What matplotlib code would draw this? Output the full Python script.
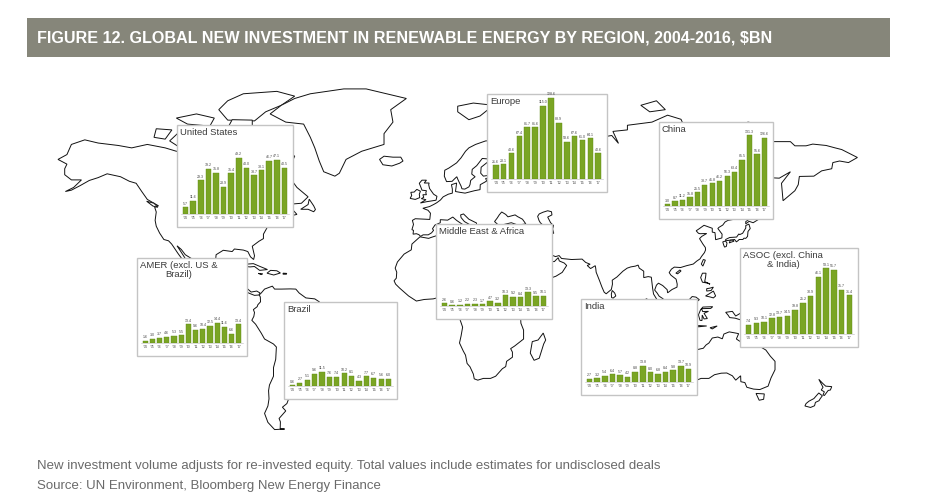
import numpy as np
import matplotlib.pyplot as plt
from matplotlib.patches import Polygon, Rectangle
from matplotlib import font_manager as fm

W, H = 934, 503

# ---- data ($bn) ----
years = ["'04", "'05", "'06", "'07", "'08", "'09", "'10", "'11", "'12", "'13", "'14", "'15", "'16", "'17"]
us = [5.7, 11.6, 29.3, 39.2, 35.8, 23.9, 35.4, 49.2, 40.0, 33.7, 38.1, 46.7, 47.1, 40.5]
europe = [21.6, 23.1, 40.6, 67.4, 81.7, 81.6, 115.0, 128.6, 88.9, 58.6, 67.6, 61.0, 64.1, 40.6]
china = [3.0, 8.7, 11.2, 15.8, 25.5, 38.7, 41.8, 46.2, 56.3, 63.4, 85.5, 131.3, 95.6, 126.6]
amer = [1.6, 3.0, 3.7, 4.6, 5.3, 5.5, 13.4, 9.6, 10.4, 12.5, 14.4, 11.6, 6.6, 13.4]
brazil = [0.6, 2.7, 5.1, 9.6, 11.5, 7.6, 7.4, 10.2, 8.1, 4.3, 7.7, 6.7, 5.6, 6.0]
mea = [2.6, 0.6, 1.2, 2.2, 2.3, 1.7, 4.7, 3.2, 10.3, 9.2, 8.4, 13.3, 9.5, 10.1]
india = [2.7, 3.2, 5.4, 6.4, 5.7, 4.2, 8.8, 13.8, 8.0, 6.8, 8.4, 9.8, 13.7, 10.9]
asoc = [7.4, 9.3, 10.1, 12.8, 13.7, 14.5, 19.8, 25.2, 30.9, 46.1, 53.1, 51.7, 35.7, 31.4]

regions = ["United States", "Europe", "China", "AMER (excl. US &\nBrazil)", "Brazil",
           "Middle East & Africa", "India", "ASOC (excl. China\n& India)"]
values = [us, europe, china, amer, brazil, mea, india, asoc]

# inset boxes in pixels (x0, y0, x1, y1) and y-axis tops
boxes = [(177, 125, 293, 227), (487, 94, 607, 192), (659, 122, 773, 219), (137, 258, 247, 356),
         (284, 302, 397, 399), (436, 224, 552, 319), (581, 299, 697, 395), (740, 248, 858, 347)]
ytops = [76, 131, 152, 60, 66, 78, 68, 68]

title = "FIGURE 12. GLOBAL NEW INVESTMENT IN RENEWABLE ENERGY BY REGION, 2004-2016, $BN"
note1 = "New investment volume adjusts for re-invested equity. Total values include estimates for undisclosed deals"
note2 = "Source: UN Environment, Bloomberg New Energy Finance"

# ---- rough coastline outlines (lon, lat) for the background map ----
land = [
    # North America
    [(-168, 65.5), (-164, 67), (-162, 70), (-156, 71.3), (-150, 70.4), (-141, 69.7), (-135, 69), (-128, 70),
     (-120, 69), (-115, 68), (-108, 68), (-98, 68), (-94, 71), (-90, 69), (-85, 69.5), (-82, 67), (-86, 64),
     (-94, 61), (-93, 58.8), (-92, 57), (-88, 55.5), (-82, 53), (-79, 51.5), (-79, 55), (-77, 58), (-78, 62.5),
     (-73, 62), (-70, 59), (-65, 60.3), (-61, 56), (-56, 52.5), (-59, 50), (-66, 49.5), (-64, 48.5), (-61, 45.5),
     (-66, 44.5), (-70, 43.5), (-70, 41.7), (-74, 40.5), (-76, 37), (-76, 35), (-78, 33.8), (-81, 31.5), (-80, 27),
     (-80.4, 25.2), (-81.8, 26.5), (-83, 29), (-85, 29.7), (-89, 30.2), (-90, 29), (-94, 29.6), (-97.2, 27.5),
     (-97.5, 24), (-97, 21), (-95, 18.6), (-91, 18.6), (-90.5, 21), (-87, 21.5), (-88, 18), (-88.5, 16),
     (-84, 15.5), (-83.5, 11), (-81.5, 9), (-79, 9.5), (-77.5, 8.5), (-78, 7.5), (-80, 7.3), (-82, 8.2),
     (-85.5, 10), (-87.5, 13), (-91.5, 14), (-94.5, 16), (-97, 16), (-101, 17.5), (-105.5, 20), (-105.5, 22.8),
     (-108, 25.5), (-111, 27.5), (-112.8, 30), (-114.7, 31.7), (-113, 29), (-111.5, 26.5), (-110, 24),
     (-109.5, 23), (-112, 24.8), (-114.2, 28), (-115.8, 30.5), (-117.1, 32.5), (-118.5, 34), (-120.6, 34.6),
     (-122.5, 37.5), (-124, 40.5), (-124.5, 43), (-124, 46.5), (-124.7, 48.4), (-123, 49), (-125, 50),
     (-128, 51.5), (-130.5, 54.5), (-133, 57.5), (-136, 58.2), (-140, 59.8), (-146, 60.8), (-150, 59.5),
     (-154, 58.5), (-158, 56.7), (-162, 55), (-164.7, 54.5), (-161, 56), (-157.5, 58.7), (-162, 58.7),
     (-165, 60.5), (-165, 62.5), (-164, 64)],
    # Canadian islands
    [(-62, 66.5), (-64, 63.5), (-68, 62.5), (-74, 64.5), (-78, 64.5), (-80, 68), (-85, 70), (-89, 71),
     (-84, 73.7), (-78, 72.5), (-72, 71), (-67, 69)],
    [(-118, 71), (-112, 68.5), (-103, 68.7), (-101, 70), (-106, 73), (-114, 73.3)],
    [(-92, 76.5), (-80, 76.3), (-75, 78.5), (-68, 80), (-62, 82), (-70, 83), (-85, 82.5), (-92, 81), (-96, 79)],
    [(-125, 72), (-120, 71.5), (-117, 74), (-124, 74.3)],
    [(-92, 74.5), (-81, 74.5), (-81, 76.5), (-90, 76.6)],
    [(-110, 75.5), (-100, 75), (-98, 77), (-106, 78), (-115, 77)],
    [(-59.3, 47.6), (-56, 49.5), (-55.5, 51.6), (-53.5, 49), (-52.7, 47.5), (-53.5, 46.6), (-56, 47.6)],
    [(-128.3, 50.8), (-125, 50), (-123.3, 48.4), (-125.5, 48.9)],
    # Greenland, Iceland
    [(-73, 78), (-66, 76), (-58, 75.5), (-55, 72), (-53, 69), (-51, 65), (-49, 61.5), (-44, 60), (-42, 61),
     (-39, 65.5), (-32, 68), (-22, 70), (-22, 73), (-18, 76), (-19, 79), (-12, 81.5), (-30, 83.5), (-40, 83.5),
     (-55, 82.5), (-62, 81.5), (-68, 80)],
    [(-24, 65.5), (-22, 66.5), (-18, 66.2), (-14.5, 66.2), (-13.5, 65), (-15, 64.3), (-18.5, 63.4), (-22.5, 63.8)],
    # Caribbean
    [(-85, 21.9), (-83, 23), (-80.5, 23.2), (-77.5, 21.8), (-75.7, 21), (-74.2, 20.3), (-77.7, 19.9),
     (-80, 21.8), (-82, 21.6)],
    [(-74.4, 18.5), (-72.8, 19.9), (-70, 19.7), (-68.4, 18.6), (-71.4, 17.6)],
    [(-78.3, 18.4), (-76.3, 18.2), (-77, 17.8)],
    [(-67.2, 18.5), (-65.6, 18.4), (-65.7, 18), (-67.2, 18)],
    # South America
    [(-77, 8.5), (-75.5, 10.5), (-72, 12), (-71, 10.5), (-68, 10.5), (-64, 10.6), (-61.5, 10.5), (-60, 8.5),
     (-57, 6), (-53, 5.5), (-51, 4), (-50, 1.8), (-48.5, -1), (-44.5, -2.5), (-40, -2.8), (-35, -5.2),
     (-34.8, -7.5), (-35.3, -9.5), (-37.5, -12.5), (-39, -13.5), (-39.2, -17.5), (-40.5, -21), (-42, -23),
     (-44.5, -23.3), (-48.5, -26), (-48.6, -28.5), (-51, -31.5), (-53.5, -34), (-55, -35), (-58.4, -34.5),
     (-57, -36.5), (-57.5, -38.2), (-62, -39), (-62.3, -40.8), (-65, -41), (-64.5, -42.5), (-65.5, -45),
     (-67.5, -46.5), (-66, -48), (-69, -51), (-68.4, -52.3), (-68.5, -54.9), (-66.5, -55), (-71, -55.2),
     (-74, -52.5), (-75.5, -49), (-74, -46), (-73.5, -43), (-73.7, -39.5), (-73.3, -37), (-71.5, -33),
     (-71.5, -29), (-70.5, -25), (-70.2, -19), (-71.5, -17.5), (-75.5, -15), (-77, -12), (-79.5, -7.5),
     (-81.2, -5.5), (-80.3, -3.5), (-80, -1.5), (-80.5, 0), (-78.8, 1.5), (-78.5, 2.5), (-77.3, 4),
     (-77.4, 6.5), (-77.9, 7.5)],
    # Africa
    [(-5.9, 35.8), (-9.5, 32.5), (-9.8, 29.8), (-13, 27.8), (-16, 24), (-17, 21), (-16.3, 19), (-16.5, 16),
     (-17.5, 14.7), (-16.8, 13), (-15, 11), (-13, 9), (-11, 7), (-7.5, 4.4), (-4, 5.2), (0, 5.5), (2.7, 6.3),
     (4.5, 6.2), (6, 4.3), (8.5, 4.5), (9.7, 3.5), (9.5, 1), (9, -1), (11.5, -3.5), (12.3, -6), (13.2, -9),
     (12.5, -13.5), (11.8, -17), (13.5, -21), (14.5, -23), (15.2, -27), (16.5, -28.6), (18, -32), (18.4, -34.2),
     (20, -34.8), (22.5, -34), (25.7, -34), (28, -33), (31, -29.5), (32.5, -28.5), (32.9, -26), (35.5, -24),
     (35.5, -21.5), (34.7, -19.8), (36.5, -18.5), (40.5, -15), (40.5, -10.5), (39.3, -7), (39.2, -4.7),
     (41, -2), (43.5, 0.5), (47, 4.5), (50, 8.5), (51.2, 11.8), (49, 11.3), (44.5, 10.4), (43.2, 12.5),
     (41.5, 14), (39.5, 15.5), (38.5, 18), (37.3, 21), (35.5, 23.9), (34.5, 26), (33.5, 27.5), (32.5, 30),
     (32.3, 31.2), (30, 31.4), (25, 31.7), (20, 32.2), (19, 30.3), (15.5, 31.5), (11.5, 33.2), (10.5, 35.7),
     (11, 37), (9.5, 37.3), (3, 36.8), (-1, 35.5), (-2, 35.1)],
    [(49.3, -12), (50.4, -15.5), (49.5, -17.5), (47.5, -24.5), (45.2, -25.5), (43.5, -22), (44.4, -16.3),
     (47, -15.5)],
    # Eurasia
    [(32.3, 31.2), (34.2, 31.3), (35, 33), (35.9, 35.2), (36.2, 36.7), (32.8, 36.1), (30, 36.3), (27.3, 37),
     (26.2, 39.5), (26.5, 40.7), (24, 40.7), (22.6, 40.5), (23.5, 38), (22, 36.5), (21, 38.3), (19.5, 40.5),
     (19.4, 41.9), (16, 43.5), (13.6, 45.7), (12.3, 45.3), (12.5, 44.2), (14, 42.5), (16, 41.4), (18.5, 40.2),
     (17, 40.4), (16.6, 39.6), (15.7, 38), (16, 38.9), (15.6, 40.1), (14, 40.8), (12.5, 41.7), (10.5, 43),
     (8.8, 44.4), (6.5, 43.1), (3.2, 43.3), (3.2, 42), (0.8, 41), (-0.3, 39.4), (0.2, 38.7), (-0.7, 37.6),
     (-2.2, 36.7), (-4.5, 36.7), (-5.6, 36), (-6.4, 36.8), (-7.5, 37.2), (-9, 37), (-8.8, 38.7), (-9.5, 39),
     (-8.8, 41.3), (-9.3, 43), (-8, 43.7), (-3.5, 43.5), (-1.5, 43.4), (-1.2, 46), (-2.3, 47.2), (-4.6, 48),
     (-1.6, 48.7), (0.2, 49.5), (1.6, 50.2), (3.3, 51.3), (4.5, 52.5), (6.8, 53.5), (8.6, 53.9), (8.6, 55.4),
     (8.2, 57), (10.5, 57.6), (10.3, 56.3), (10, 54.5), (12, 54.2), (14.3, 53.9), (18.5, 54.8), (21, 55.2),
     (21.1, 57), (24, 58.3), (23.5, 59.2), (28, 59.5), (30, 59.9), (28.5, 60.5), (25, 60.3), (22.5, 60),
     (21.3, 61), (21.5, 63), (25, 65), (25.4, 65.6), (22, 65.8), (19.5, 63.5), (17.5, 62.3), (17.3, 60.7),
     (18.8, 59.8), (18, 59.3), (16.8, 58.5), (16.5, 57), (16, 56.2), (14.2, 55.4), (12.9, 55.5), (12.5, 56.5),
     (11.7, 57.8), (11, 59), (10.6, 59.8), (9.5, 59), (8.5, 58.2), (6, 58.1), (5, 60), (5.2, 62), (7, 62.7),
     (10.5, 64.4), (12.5, 66), (14.5, 68), (16, 69), (19, 70), (23.5, 71), (28, 71.1), (31, 70), (33, 69.4),
     (36, 69), (40.5, 67.5), (41, 66.3), (34.8, 65.9), (34.5, 64.5), (37, 64), (40, 64.5), (44, 66),
     (44, 68.5), (46, 68), (53, 68.5), (55, 68.3), (60, 69), (64, 69.5), (67, 69), (68.5, 72.5), (72.5, 72.8),
     (73.5, 68.5), (75, 72), (80, 72.5), (83, 70.3), (80.5, 73.6), (87, 74), (87, 75.2), (98, 76),
     (105, 77.7), (111, 76.7), (113.5, 73.5), (119, 73), (128, 73), (129.5, 71), (133, 71.5), (139, 71.5),
     (140, 72.5), (150, 71.5), (152, 70.8), (160, 70.8), (162, 69.6), (167, 69.6), (170, 70.1), (176, 69.7),
     (180, 69), (183, 68.5), (190, 66.1), (186, 64.5), (182, 65), (179, 64.5), (178.5, 62.5), (174, 61.8),
     (170.5, 60), (164, 59.9), (163.5, 57), (162, 54.8), (156.7, 51), (156, 57.5), (160, 61.5), (155, 59.3),
     (150, 59.5), (143, 59.3), (138, 56), (135.2, 54.7), (137.5, 53.5), (141.5, 52), (140.5, 48.5),
     (138.5, 46.5), (135, 43.5), (132, 43), (130.7, 42.3), (129.7, 41), (128, 40), (127.5, 39.5),
     (129.4, 37), (129.3, 35.3), (126.5, 34.5), (126.3, 36.9), (126.2, 37.7), (125, 37.9), (125, 39.6),
     (121.3, 40.9), (119, 39.3), (117.8, 38.5), (118.8, 37.4), (119.5, 37.2), (122.5, 37.3), (120.3, 36),
     (119.3, 35), (120.8, 32.5), (121.9, 30.9), (122, 29.8), (121.5, 28.5), (120.2, 26.7), (119.5, 25.5),
     (118, 24.4), (116.5, 23), (113.5, 22.2), (110.8, 21.3), (108, 21.5), (106.7, 20.5), (105.7, 18.8),
     (106.5, 17.5), (108.8, 15.5), (109.3, 13), (109.2, 11.5), (107, 10.3), (105, 8.6), (104.8, 10.2),
     (102.8, 12.3), (100.9, 13.5), (100, 12.5), (99.2, 10), (100.3, 8.5), (101.2, 6.9), (103, 5.5),
     (104.2, 1.5), (103.5, 1.3), (101.3, 2.8), (100.3, 5), (98.7, 8), (98.3, 10.8), (97.7, 16.5), (96.3, 16.8),
     (94.3, 16.3), (94.3, 19.5), (92.3, 21), (91.8, 22.5), (90.6, 22), (88.5, 21.6), (86.9, 21), (85, 19.5),
     (82.3, 16.6), (80.2, 15), (80.3, 13), (79.8, 10.3), (78.2, 8.8), (77.5, 8.1), (76.6, 8.9), (75.6, 11.5),
     (74.5, 14.8), (73, 19), (72.8, 21), (72.6, 22.2), (70.5, 20.8), (69, 22.3), (70.3, 22.9), (68.3, 23.8),
     (66.7, 25.4), (62, 25.2), (57.5, 25.7), (56.4, 27.1), (54.8, 26.6), (52, 27.8), (50.2, 30.2),
     (48.4, 30.1), (48, 29), (48.8, 27.6), (50.2, 26.2), (51.5, 25.2), (51.6, 24.2), (54.3, 24.2), (56, 26.1),
     (56.5, 24.5), (58.7, 23.5), (59.8, 22.3), (57.8, 18.9), (55, 17), (52, 15.8), (48.7, 14), (45, 12.8),
     (43.4, 12.7), (42.7, 15.7), (41.2, 19.1), (39, 21.8), (38.5, 23.8), (37, 25.8), (35.2, 28), (34.9, 29.5),
     (34.2, 27.8), (32.6, 29.9)],
    # European islands
    [(-5.7, 50.1), (-3, 50.6), (1.3, 51.2), (1.7, 52.7), (0.2, 53.5), (-1.6, 55.6), (-2, 57), (-1.8, 57.6),
     (-4, 57.6), (-3, 58.6), (-5, 58.6), (-6.2, 57.5), (-5.6, 56.3), (-5, 55), (-3, 54.8), (-3.3, 54),
     (-3, 53.3), (-4.6, 53.3), (-4.2, 52.3), (-5.3, 51.8), (-3.2, 51.4)],
    [(-6, 52.2), (-6.2, 53.5), (-5.7, 54.6), (-7.3, 55.3), (-8.5, 54.3), (-10, 54.2), (-9.6, 53), (-10.3, 51.9),
     (-8, 51.5)],
    [(12.4, 38.1), (15.6, 38.3), (15.1, 36.7)],
    [(8.4, 41), (9.8, 41.1), (9.6, 39.1), (8.4, 39)],
    [(23.5, 35.3), (26.3, 35.2), (24.5, 34.9)],
    [(11, 78.5), (16, 76.6), (21, 77.5), (27, 80), (18, 80.5), (11, 79.8)],
    [(52, 71.5), (56, 70.6), (58, 72), (68, 76.8), (60, 76.8), (55, 73.5)],
    [(97, 78.5), (104, 79), (100, 81), (93, 80)],
    [(137, 75), (142, 73.5), (150, 75), (141, 76)],
    # East Asia islands
    [(142, 46), (143.5, 49.3), (143, 51.5), (143.2, 54), (142.5, 54.3), (142.1, 52), (141.7, 48.5)],
    [(140, 41.5), (141.5, 42.6), (143.3, 42), (145.5, 43.3), (141.6, 45.4), (141.3, 43.3), (140, 42.5)],
    [(141.4, 41.4), (142, 39.5), (141, 38.2), (140.8, 36), (140, 35.1), (139.2, 35.2), (138.7, 34.6),
     (137, 34.6), (136.8, 34.3), (135.8, 33.5), (135, 34.6), (133, 34.3), (131, 34), (131, 34.6),
     (132.8, 35.5), (135.9, 35.7), (136.9, 37.1), (137.3, 36.8), (138.6, 37.4), (140, 39.7), (140, 40.8)],
    [(129.7, 33.5), (130.9, 33.9), (131.6, 33), (131.3, 31.4), (130.5, 31.1), (130.1, 32.1)],
    [(132.6, 33), (133.5, 33.4), (134.7, 33.8), (134.5, 34.2), (133.1, 34.3)],
    [(121, 25.2), (121.9, 24.9), (120.8, 22), (120.1, 23)],
    [(108.7, 18.5), (110.5, 20.1), (111, 19.6), (109.5, 18.2)],
    [(120.6, 18.5), (122.2, 18.5), (122, 16.5), (121.6, 14.3), (124, 13), (123, 13.5), (120.6, 14),
     (119.8, 16.3)],
    [(122, 7), (123.5, 8), (125.5, 9.5), (126.5, 7), (125.5, 6), (124, 6.5)],
    [(122.5, 10.7), (124, 11), (125.5, 11.5), (124.5, 9.8), (122.5, 9.5)],
    [(79.9, 6.2), (79.8, 8), (80.2, 9.8), (81.3, 8.5), (81.8, 7), (80.6, 5.9)],
    # Indonesia, New Guinea
    [(95.3, 5.6), (98, 4.3), (100.4, 2), (103.8, -1), (106, -3), (105.8, -5.9), (104.5, -5.9), (102.3, -4),
     (100.3, -1), (98.5, 1.7), (96, 4)],
    [(105.2, -6.8), (106.5, -6), (108.3, -6.3), (110.5, -6.9), (112.5, -6.9), (114.5, -7.7), (114.4, -8.7),
     (110, -8.1), (106.5, -7.4)],
    [(109, 1.5), (111, 2.9), (113.1, 3.2), (116, 6.7), (117.7, 6.4), (119.2, 5.1), (118, 4), (117.8, 1),
     (116.5, -2.5), (116, -4), (113, -3.2), (110.2, -2.9), (109, -0.5)],
    [(119.5, -5.5), (120.4, -5.6), (120.5, -2.8), (121.3, -4.8), (122.8, -4.6), (121.3, -1.9), (123.3, -0.9),
     (120.7, -1), (120.2, 0.5), (124.3, 0.6), (125.2, 1.5), (120.8, 1.3), (119.8, 0), (118.8, -2.7)],
    [(131, -1.4), (134, -0.9), (135.5, -3.3), (138, -1.6), (141, -2.6), (145.7, -4.8), (147.5, -6), (148, -8),
     (150.5, -10.5), (147, -10.1), (144, -7.7), (143.3, -9), (141, -9.1), (138.8, -8.3), (137.8, -5.3),
     (135.2, -4.4), (132.8, -4.1), (132, -2.7)],
    [(124, -9.3), (127.2, -8.4), (125, -9.9)],
    [(115.5, -8.8), (119, -8.2), (122.5, -8.4), (119, -8.8)],
    # Australia, New Zealand
    [(113.5, -22), (114, -26.5), (115, -30), (115, -33.6), (117.5, -35), (120, -34), (123.5, -34), (126, -32.3),
     (129, -31.6), (131.5, -31.5), (134, -32.8), (135.5, -34.8), (137.7, -32.8), (137.8, -35.5), (139.6, -35.9),
     (140.5, -38), (143.5, -38.8), (146.3, -39), (150, -37.5), (151.3, -33.8), (153.1, -30), (153.1, -26),
     (151, -23.5), (149, -20.5), (146, -18.5), (145.3, -15), (143.5, -14), (142.5, -10.7), (141.5, -13.5),
     (141.6, -16.5), (140.8, -17.5), (139.2, -17.3), (137, -15.9), (135.8, -15), (136.8, -12.3), (135.5, -12),
     (132.6, -11.4), (130.2, -12.5), (129.5, -14.9), (127.5, -14), (125, -14.5), (123.5, -17), (122.2, -18),
     (121, -19.6), (117, -20.6), (114.6, -21.8)],
    [(144.6, -40.7), (148.3, -40.9), (148, -43.2), (146, -43.6)],
    [(172.7, -34.4), (174.5, -36.3), (175.8, -37.5), (178.5, -37.7), (177.9, -39.2), (176.9, -39.4),
     (175.2, -41.6), (174.6, -41.3), (175.2, -40), (173.8, -39.2), (174.6, -38)],
    [(172.7, -40.5), (174.3, -41.7), (173.3, -43), (172.8, -43.8), (171.2, -44.5), (170.8, -45.9), (169, -46.6),
     (166.5, -46), (167, -45), (168.3, -44), (170.5, -42.9), (171.6, -41.7)],
]
lakes = [
    [(27.5, 42.5), (29, 41.2), (31.5, 41.2), (35, 42), (38, 41), (41.5, 41.5), (40, 43.5), (37.8, 44.6),
     (36.7, 45.3), (33.5, 44.5), (32.5, 45.5), (30.7, 46.5), (29.6, 45.3), (28.7, 44)],
    [(47.5, 45.7), (49.2, 46.4), (51.3, 47), (53, 46.6), (53.2, 45.3), (51.3, 44.4), (52.6, 42), (53.9, 40.8),
     (53.5, 39.3), (54, 37.4), (51, 36.7), (49, 37.6), (49.2, 40.2), (49.6, 40.6), (48, 42), (47.4, 43),
     (46.8, 44.7)],
]


def to_px(pts):
    a = np.array(pts, dtype=float)
    lon, lat = a[:, 0], a[:, 1]
    x = 58 + (lon + 168) * 2.233
    y = 309.6 - 111.5 * 1.25 * np.log(np.tan(np.pi / 4 + 0.4 * np.radians(lat)))
    return np.column_stack([x, y])


names = {f.name for f in fm.fontManager.ttflist}
narrow = 'Liberation Sans Narrow' if 'Liberation Sans Narrow' in names else 'Liberation Sans'
sans = ['Liberation Sans', 'DejaVu Sans']

fig = plt.figure(figsize=(W / 100, H / 100), dpi=100)
bg = fig.add_axes([0, 0, 1, 1])
bg.set_xlim(0, W)
bg.set_ylim(H, 0)
bg.axis('off')

# header band
bg.add_patch(Rectangle((27, 18), 863, 39, fc='#86867a', ec='none'))
t_title = bg.text(37, 38, title, color='white', fontsize=11, fontweight='bold',
                  family=[narrow, 'DejaVu Sans'], ha='left', va='center')

# map
for poly in land:
    bg.add_patch(Polygon(to_px(poly), closed=True, fc='white', ec='#111111', lw=0.7, zorder=1))
for poly in lakes:
    bg.add_patch(Polygon(to_px(poly), closed=True, fc='white', ec='#111111', lw=0.7, zorder=1.5))

# insets
green = '#7aa524'
for name, vals, (x0, y0, x1, y1), top in zip(regions, values, boxes, ytops):
    bg.add_patch(Rectangle((x0, y0), x1 - x0, y1 - y0, fc='white', ec='#c4c4c4', lw=1.0, zorder=3))
    bg.text(x0 + 3, y0 + 3, name, ha='left', va='top', fontsize=6.8, color='#3a3a3a',
            family=sans, multialignment='center', zorder=4, linespacing=1.05)
    base = y1 - 13
    ax = fig.add_axes([(x0 + 4) / W, (H - base) / H, (x1 - x0 - 8) / W, (base - y0 - 2) / H])
    ax.patch.set_alpha(0)
    xs = np.arange(len(vals))
    ax.bar(xs, vals, width=0.72, color=green, edgecolor='#5e8a12', linewidth=0.3)
    for xi, v in zip(xs, vals):
        ax.text(xi, v + top * 0.02, f'{v:.1f}', ha='center', va='bottom', fontsize=2.6,
                color='#444444', family=sans)
    ax.set_xlim(-0.6, len(vals) - 0.4)
    ax.set_ylim(0, top)
    ax.set_xticks(xs)
    ax.set_xticklabels(years, fontsize=2.6, color='#555555', family=sans)
    ax.tick_params(axis='x', length=0, pad=1.5)
    ax.set_yticks([])
    for s in ['top', 'right', 'left']:
        ax.spines[s].set_visible(False)
    ax.spines['bottom'].set_color('#bbbbbb')
    ax.spines['bottom'].set_linewidth(0.4)

# footnotes
t_n1 = bg.text(37, 466, note1, color='#6a6a6a', fontsize=9, family=[narrow, 'DejaVu Sans'],
               ha='left', va='center')
t_n2 = bg.text(37, 486, note2, color='#6a6a6a', fontsize=9, family=[narrow, 'DejaVu Sans'],
               ha='left', va='center')

# fit text widths to the reference
fig.canvas.draw()
r = fig.canvas.get_renderer()
w = t_title.get_window_extent(r).width
t_title.set_fontsize(t_title.get_fontsize() * 733 / w)
w = t_n1.get_window_extent(r).width
fs = t_n1.get_fontsize() * 630 / w
t_n1.set_fontsize(fs)
t_n2.set_fontsize(fs)

fig.savefig('out.png', dpi=100)
